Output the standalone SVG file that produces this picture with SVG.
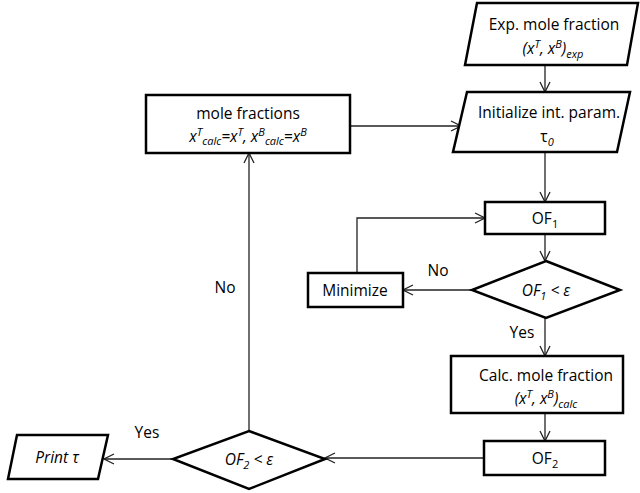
<svg xmlns="http://www.w3.org/2000/svg" width="640" height="493" viewBox="0 0 640 493">
  <style>
    .shape { fill: #ffffff; stroke: #000000; stroke-width: 2.5; stroke-linejoin: miter; }
    .conn { fill: none; stroke: #222222; stroke-width: 1.3; }
    text { font-family: "Open Sans", "Liberation Sans", sans-serif; font-size: 15.5px; fill: #000000; text-anchor: middle; }
    .it { font-style: italic; }
    .sm { font-size: 11px; }
  </style>
  <defs>
    <marker id="arrow" viewBox="0 0 12 12" refX="11" refY="6" markerWidth="12" markerHeight="12" markerUnits="userSpaceOnUse" orient="auto">
      <path d="M1,1 L11,6 L1,11" fill="none" stroke="#222222" stroke-width="1.3"/>
    </marker>
  </defs>

  <g id="connectors">
    <path class="conn" d="M545,65 V92" marker-end="url(#arrow)"/>
    <path class="conn" d="M350,126 H461" marker-end="url(#arrow)"/>
    <path class="conn" d="M545,152 V202" marker-end="url(#arrow)"/>
    <path class="conn" d="M545,234 V261" marker-end="url(#arrow)"/>
    <path class="conn" d="M472,290 H403" marker-end="url(#arrow)"/>
    <path class="conn" d="M357,273 V218 H485" marker-end="url(#arrow)"/>
    <path class="conn" d="M545,318 V356" marker-end="url(#arrow)"/>
    <path class="conn" d="M545,413 V441" marker-end="url(#arrow)"/>
    <path class="conn" d="M484,458 H325" marker-end="url(#arrow)"/>
    <path class="conn" d="M173,459 H104" marker-end="url(#arrow)"/>
    <path class="conn" d="M249,431 V153" marker-end="url(#arrow)"/>
    <text x="438" y="276">No</text>
    <text x="522" y="338">Yes</text>
    <text x="147" y="438">Yes</text>
    <text x="225" y="293">No</text>
  </g>

  <g id="exp-mole-fraction">
    <polygon class="shape" points="477,3 638,3 627,65 465,65"/>
    <text x="554" y="30">Exp. mole fraction</text>
    <text class="it" x="553" y="54">(x<tspan class="sm" dy="-6">T</tspan><tspan dy="6">, x</tspan><tspan class="sm" dy="-6">B</tspan><tspan dy="6">)</tspan><tspan class="sm" dy="4">exp</tspan></text>
  </g>

  <g id="initialize">
    <polygon class="shape" points="467,92 630,92 617,152 453,152"/>
    <text x="549" y="118">Initialize int. param.</text>
    <text x="547" y="142">τ<tspan class="sm it" dy="4">0</tspan></text>
  </g>

  <g id="mole-fractions">
    <rect class="shape" x="146" y="95" width="204" height="58"/>
    <text x="248" y="119">mole fractions</text>
    <text class="it" x="248" y="142">x<tspan class="sm" dy="-6">T</tspan><tspan class="sm" dy="9">calc</tspan><tspan dy="-3">=x</tspan><tspan class="sm" dy="-6">T</tspan><tspan dy="6">, x</tspan><tspan class="sm" dy="-6">B</tspan><tspan class="sm" dy="9">calc</tspan><tspan dy="-3">=x</tspan><tspan class="sm" dy="-6">B</tspan></text>
  </g>

  <g id="of1">
    <rect class="shape" x="485" y="202" width="120" height="32"/>
    <text x="545" y="224">OF<tspan class="sm" dy="4">1</tspan></text>
  </g>

  <g id="of1-check">
    <polygon class="shape" points="546,261 620,290 546,318 472,290"/>
    <text class="it" x="546" y="296">OF<tspan class="sm" dy="4">1</tspan><tspan dy="-4"> &lt; ε</tspan></text>
  </g>

  <g id="minimize">
    <rect class="shape" x="308" y="273" width="95" height="34"/>
    <text x="355" y="296">Minimize</text>
  </g>

  <g id="calc-mole-fraction">
    <rect class="shape" x="451" y="356" width="172" height="57"/>
    <text x="546" y="381">Calc. mole fraction</text>
    <text class="it" x="546" y="404">(x<tspan class="sm" dy="-6">T</tspan><tspan dy="6">, x</tspan><tspan class="sm" dy="-6">B</tspan><tspan dy="6">)</tspan><tspan class="sm" dy="4">calc</tspan></text>
  </g>

  <g id="of2">
    <rect class="shape" x="484" y="441" width="121" height="34"/>
    <text x="545" y="464">OF<tspan class="sm" dy="4">2</tspan></text>
  </g>

  <g id="of2-check">
    <polygon class="shape" points="249,431 325,459 249,489 173,459"/>
    <text class="it" x="249" y="465">OF<tspan class="sm" dy="4">2</tspan><tspan dy="-4"> &lt; ε</tspan></text>
  </g>

  <g id="print-tau">
    <polygon class="shape" points="17,435 108,435 98,479 8,479"/>
    <text class="it" x="57" y="463">Print τ</text>
  </g>
</svg>
